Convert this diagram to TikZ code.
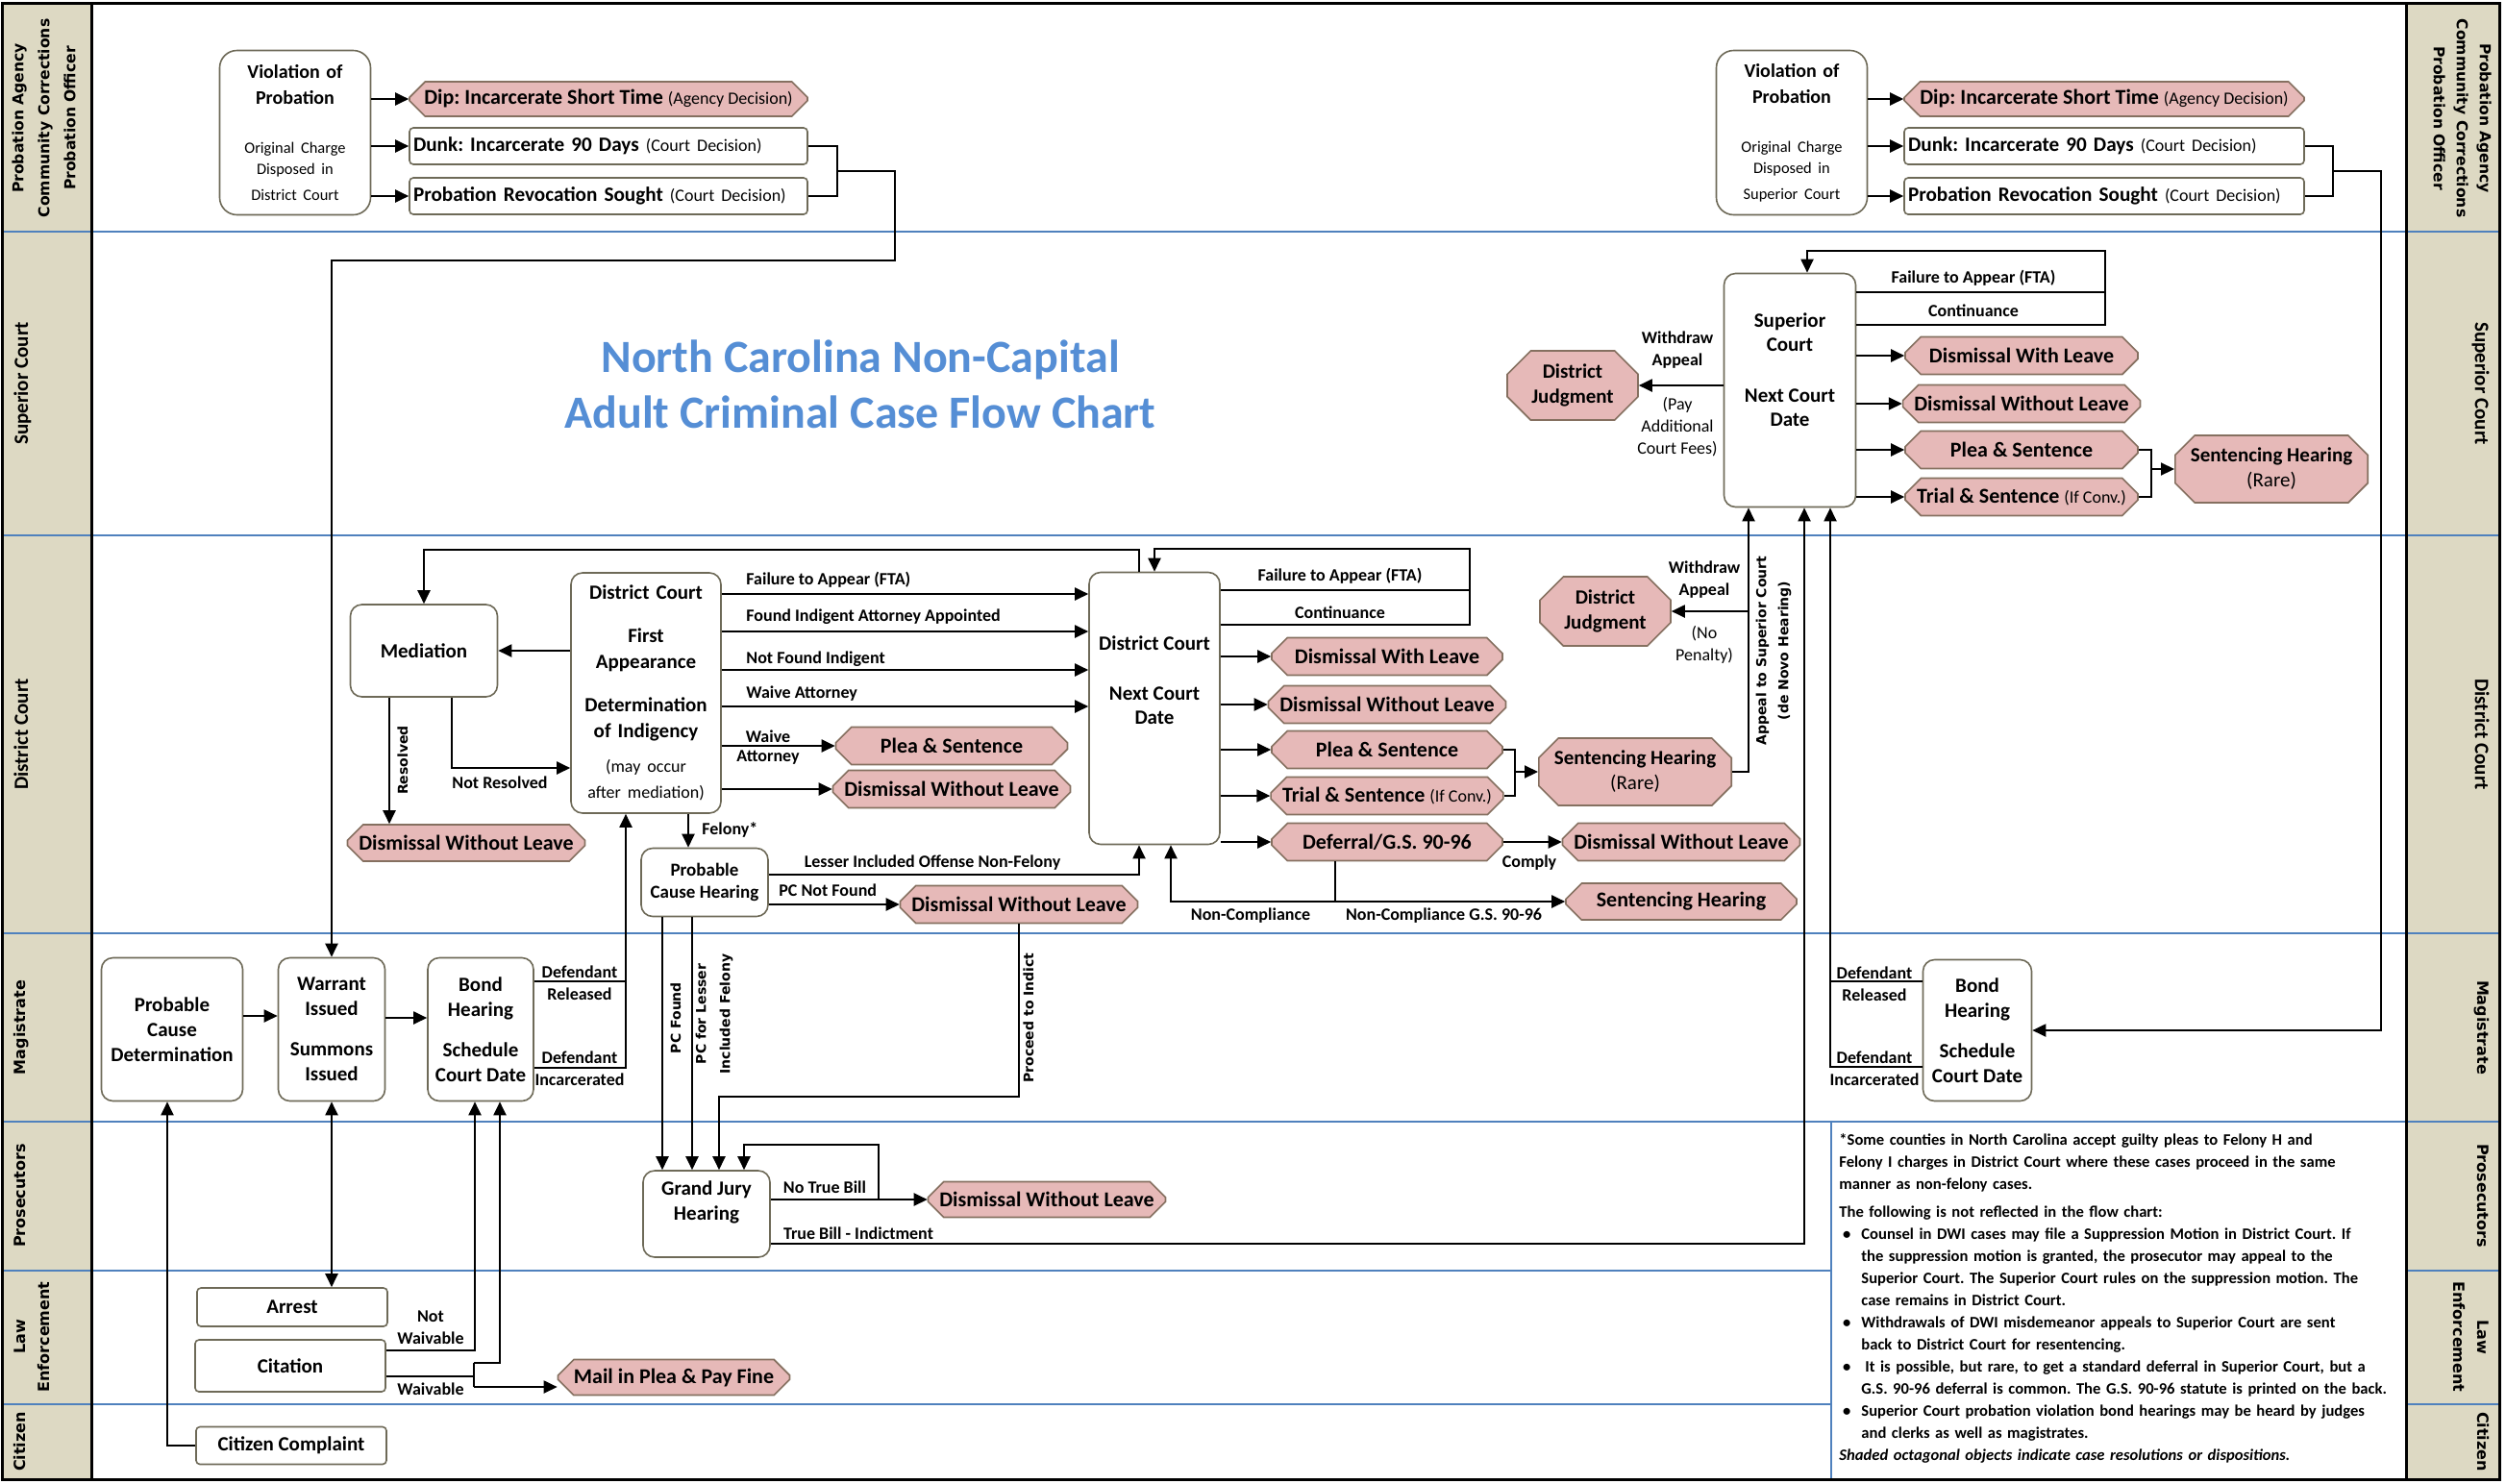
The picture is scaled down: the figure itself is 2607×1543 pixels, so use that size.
\documentclass[tikz,border=0pt]{standalone}
\usepackage{fontspec}
\setmainfont{Carlito}
\newfontfamily\vsans{DejaVu Sans}
\usetikzlibrary{arrows.meta,shapes.misc}

\definecolor{lanefill}{HTML}{DDD9C3}
\definecolor{laneline}{HTML}{4F81BD}
\definecolor{titleblue}{HTML}{558ED5}
\definecolor{boxline}{HTML}{6E6A58}
\definecolor{octfill}{HTML}{E6B9B8}
\definecolor{octline}{HTML}{857060}

\tikzset{
  ln/.style={draw=black, line width=1pt},
  arr/.style={ln, -{Triangle[length=7pt,width=6.5pt]}},
  dbl/.style={ln, {Triangle[length=7pt,width=6.5pt]}-{Triangle[length=7pt,width=6.5pt]}},
  box/.style={rectangle, rounded corners=6pt, draw=boxline, line width=0.8pt, fill=white,
    inner sep=2pt, align=center, font=\bfseries\fontsize{10.5}{13}\selectfont},
  sqbox/.style={box, rounded corners=2pt},
  btxt/.style={align=center, inner sep=0pt, font=\bfseries\fontsize{10.5}{12.5}\selectfont},
  oct/.style={chamfered rectangle, chamfered rectangle xsep=5pt, draw=octline, line width=0.8pt,
    fill=octfill, inner sep=1pt, align=center, font=\bfseries\fontsize{11}{13}\selectfont},
  bigoct/.style={oct, chamfered rectangle xsep=7pt, font=\bfseries\fontsize{10.5}{13}\selectfont},
  lbl/.style={inner sep=0pt, align=center, font=\bfseries\fontsize{9}{11.5}\selectfont},
  rlbl/.style={lbl, font=\fontsize{9}{11.5}\selectfont},
  vlbl/.style={inner sep=0pt, align=center, rotate=90, font=\vsans\bfseries\fontsize{7}{12}\selectfont},
  lanelbl/.style={inner sep=0pt, align=center, anchor=north, font=\vsans\bfseries\fontsize{8}{12.5}\selectfont},
  courtlbl/.style={lanelbl, font=\bfseries\fontsize{10.5}{12.5}\selectfont},
}
\newcommand\paren[1]{{\mdseries\fontsize{9}{11}\selectfont #1}}

\begin{document}
\frenchspacing
\begin{tikzpicture}[x=0.5pt,y=-0.5pt]
\useasboundingbox (0,0) rectangle (2607,1543);

% swim lanes
\fill[lanefill] (2,3) rectangle (95,1539);
\fill[lanefill] (2503,3) rectangle (2600,1539);
\foreach \y in {241,557,971,1167,1322,1461}
  \draw[laneline, line width=1pt] (2,\y) -- (2600,\y);
\fill[white] (1905,1168) rectangle (2502,1538);
\draw[laneline, line width=0.8pt] (1905,1167) -- (1905,1539);
\draw[line width=1.5pt] (95,3) -- (95,1539) (2503,3) -- (2503,1539);
\draw[line width=1.5pt] (2,3) rectangle (2600,1539);

% lane labels
\node[lanelbl, rotate=90, font=\vsans\bfseries\fontsize{7.8}{13.5}\selectfont] (laneProbL) at (12,123) {Probation Agency\\Community Corrections\\Probation Officer};
\node[courtlbl, rotate=90] (laneSupL) at (14,399) {Superior Court};
\node[courtlbl, rotate=90] (laneDistL) at (14,764) {District Court};
\node[lanelbl, rotate=90] (laneMagL) at (14,1069) {Magistrate};
\node[lanelbl, rotate=90] (laneProsL) at (14,1244) {Prosecutors};
\node[lanelbl, rotate=90] (laneLawL) at (14,1391) {Law\\Enforcement};
\node[lanelbl, rotate=90] (laneCitL) at (14,1500) {Citizen};
\node[lanelbl, rotate=-90, font=\vsans\bfseries\fontsize{7.8}{12}\selectfont] (laneProbR) at (2592,123) {Probation Agency\\Community Corrections\\Probation Officer};
\node[courtlbl, rotate=-90] (laneSupR) at (2590,399) {Superior Court};
\node[courtlbl, rotate=-90] (laneDistR) at (2590,764) {District Court};
\node[lanelbl, rotate=-90] (laneMagR) at (2590,1069) {Magistrate};
\node[lanelbl, rotate=-90] (laneProsR) at (2590,1244) {Prosecutors};
\node[lanelbl, rotate=-90] (laneLawR) at (2590,1391) {Law\\Enforcement};
\node[lanelbl, rotate=-90] (laneCitR) at (2590,1500) {Citizen};

% probation, district side
\node[box, rounded corners=9pt, minimum width=78.5pt, minimum height=85.5pt, text width=74pt,
  font=\bfseries\fontsize{10}{13.5}\selectfont] (vopL) at (307,138)
  {Violation of\\Probation\\[14.5pt]{\mdseries\fontsize{8.2}{11}\selectfont Original Charge\\Disposed in\\District Court}};
\node[oct, minimum width=207pt, minimum height=18pt] (dipL) at (633,103) {Dip: Incarcerate Short Time \paren{(Agency Decision)}};
\node[sqbox, minimum width=207pt, minimum height=19pt, text width=203pt, inner sep=1.5pt, align=left,
  font=\bfseries\fontsize{10.6}{13}\selectfont] (dunkL) at (633,152) {Dunk: Incarcerate 90 Days \paren{(Court Decision)}};
\node[sqbox, minimum width=207pt, minimum height=19pt, text width=203pt, inner sep=1.5pt, align=left,
  font=\bfseries\fontsize{10.6}{13}\selectfont] (revL) at (633,204) {Probation Revocation Sought \paren{(Court Decision)}};

% probation, superior side
\node[box, rounded corners=9pt, minimum width=78.5pt, minimum height=85.5pt, text width=74pt,
  font=\bfseries\fontsize{10}{13.5}\selectfont] (vopR) at (1864,138)
  {Violation of\\Probation\\[14.5pt]{\mdseries\fontsize{8.2}{11}\selectfont Original Charge\\Disposed in\\Superior Court}};
\node[oct, minimum width=208pt, minimum height=18pt] (dipR) at (2189,103) {Dip: Incarcerate Short Time \paren{(Agency Decision)}};
\node[sqbox, minimum width=208pt, minimum height=19pt, text width=204pt, inner sep=1.5pt, align=left,
  font=\bfseries\fontsize{10.6}{13}\selectfont] (dunkR) at (2189,152) {Dunk: Incarcerate 90 Days \paren{(Court Decision)}};
\node[sqbox, minimum width=208pt, minimum height=19pt, text width=204pt, inner sep=1.5pt, align=left,
  font=\bfseries\fontsize{10.6}{13}\selectfont] (revR) at (2189,204) {Probation Revocation Sought \paren{(Court Decision)}};

% superior court
\node[font=\bfseries\fontsize{24}{29}\selectfont, text=titleblue, align=center] (title) at (895,400)
  {North Carolina Non-Capital\\Adult Criminal Case Flow Chart};
\node[box, minimum width=68.5pt, minimum height=121.5pt] (sc) at (1862,406) {};
\node[btxt] (scT) at (1862,385) {Superior\\Court\\[14pt]Next Court\\Date};
\node[oct, minimum width=121pt, minimum height=19.5pt] (scDWL) at (2103,370) {Dismissal With Leave};
\node[oct, minimum width=121pt, minimum height=19.5pt] (scDWoL) at (2103,420) {Dismissal Without Leave};
\node[oct, minimum width=121pt, minimum height=19.5pt] (scPlea) at (2103,468) {Plea \& Sentence};
\node[oct, minimum width=121pt, minimum height=19.5pt] (scTrial) at (2103,517) {Trial \& Sentence \paren{(If Conv.)}};
\node[bigoct, minimum width=99pt, minimum height=35pt] (scSH) at (2363,488)
  {Sentencing Hearing\\{\mdseries (Rare)}};
\node[bigoct, minimum width=68pt, minimum height=36pt, chamfered rectangle xsep=9pt] (scDJ) at (1636,401) {District\\Judgment};
\node[lbl] (lWdS) at (1745,364) {Withdraw\\Appeal};
\node[rlbl] (lPay) at (1745,444) {(Pay\\Additional\\Court Fees)};
\node[lbl] (lFtaS) at (2053,289) {Failure to Appear (FTA)};
\node[lbl] (lContS) at (2053,323) {Continuance};

% district court
\node[box, minimum width=76.5pt, minimum height=48pt] (med) at (441,677) {Mediation};
\node[box, minimum width=78pt, minimum height=125pt, text width=74pt,
  font=\bfseries\fontsize{10.5}{13.5}\selectfont] (fa) at (672,721)
  {District Court\\[9pt]First\\Appearance\\[9pt]Determination\\of Indigency\\[6.5pt]{\mdseries\fontsize{9}{11.5}\selectfont (may occur\\after mediation)}};
\node[box, minimum width=68pt, minimum height=141.5pt] (ncd) at (1201,737) {};
\node[btxt] (ncdT) at (1201,708) {District Court\\[13.5pt]Next Court\\Date};
\node[oct, minimum width=120.5pt, minimum height=19.5pt] (faPlea) at (990,776) {Plea \& Sentence};
\node[oct, minimum width=120.5pt, minimum height=19.5pt] (faDWoL) at (990,821) {Dismissal Without Leave};
\node[oct, minimum width=119.5pt, minimum height=19pt] (medDWoL) at (485,877) {Dismissal Without Leave};
\node[box, minimum width=66pt, minimum height=35.5pt, font=\bfseries\fontsize{9.5}{11.5}\selectfont] (pch) at (733,918) {Probable\\Cause Hearing};
\node[oct, minimum width=117.5pt, minimum height=19.5pt] (pchDWoL) at (1060,941) {Dismissal Without Leave};
\node[oct, minimum width=120pt, minimum height=19.5pt] (ncdDWL) at (1443,683) {Dismissal With Leave};
\node[oct, minimum width=120pt, minimum height=19.5pt] (ncdDWoL) at (1443,733) {Dismissal Without Leave};
\node[oct, minimum width=120pt, minimum height=19.5pt] (ncdPlea) at (1443,780) {Plea \& Sentence};
\node[oct, minimum width=120pt, minimum height=19.5pt] (ncdTrial) at (1443,828) {Trial \& Sentence \paren{(If Conv.)}};
\node[oct, minimum width=120pt, minimum height=19.5pt] (ncdDef) at (1443,876) {Deferral/G.S. 90-96};
\node[bigoct, minimum width=99.5pt, minimum height=35pt] (ncdSH) at (1701,803)
  {Sentencing Hearing\\{\mdseries (Rare)}};
\node[bigoct, minimum width=68pt, minimum height=36pt, chamfered rectangle xsep=9pt] (ncdDJ) at (1670,636) {District\\Judgment};
\node[oct, minimum width=120pt, minimum height=19.5pt] (defDWoL) at (1749,876) {Dismissal Without Leave};
\node[oct, minimum width=120pt, minimum height=19pt] (defSH) at (1749,938) {Sentencing Hearing};

\node[lbl, anchor=west] (lFtaD) at (776,603) {Failure to Appear (FTA)};
\node[lbl, anchor=west] (lFia) at (776,642) {Found Indigent Attorney Appointed};
\node[lbl, anchor=west] (lNfi) at (776,686) {Not Found Indigent};
\node[lbl, anchor=west] (lWa) at (776,722) {Waive Attorney};
\node[lbl] (lWaive) at (799,766) {Waive};
\node[lbl] (lAtty) at (799,788) {Attorney};
\node[vlbl] (lRes) at (419,791) {Resolved};
\node[lbl] (lNotRes) at (520,814) {Not Resolved};
\node[lbl, anchor=west] (lFel) at (730,863) {Felony*};
\node[lbl] (lLio) at (970,898) {Lesser Included Offense Non-Felony};
\node[lbl, anchor=west] (lPcnf) at (810,926) {PC Not Found};
\node[lbl] (lFtaN) at (1394,599) {Failure to Appear (FTA)};
\node[lbl] (lContN) at (1394,637) {Continuance};
\node[lbl] (lComply) at (1591,898) {Comply};
\node[lbl] (lNonC) at (1301,953) {Non-Compliance};
\node[lbl] (lNonCg) at (1502,953) {Non-Compliance G.S. 90-96};
\node[lbl] (lWdD) at (1773,603) {Withdraw\\Appeal};
\node[rlbl] (lNoPen) at (1773,671) {(No\\Penalty)};
\node[vlbl, font=\vsans\bfseries\fontsize{7}{11.5}\selectfont] (lAppeal) at (1845,677) {Appeal to Superior Court\\(de Novo Hearing)};

% magistrate
\node[box, minimum width=73.5pt, minimum height=74.5pt] (pcd) at (179,1071) {Probable\\Cause\\Determination};
\node[box, minimum width=55.5pt, minimum height=74.5pt] (wi) at (345,1071) {Warrant\\Issued\\[8pt]Summons\\Issued};
\node[box, minimum width=55pt, minimum height=74.5pt] (bhL) at (500,1071) {Bond\\Hearing\\[8pt]Schedule\\Court Date};
\node[box, minimum width=56.5pt, minimum height=73.5pt] (bhR) at (2057,1072) {Bond\\Hearing\\[8pt]Schedule\\Court Date};
\node[lbl] (lRelL) at (603,1023) {Defendant\\Released};
\node[lbl] (lIncL) at (603,1112) {Defendant\\Incarcerated};
\node[lbl] (lRelR) at (1950,1024) {Defendant\\Released};
\node[lbl] (lIncR) at (1950,1112) {Defendant\\Incarcerated};
\node[vlbl] (lPcf) at (703,1059) {PC Found};
\node[vlbl, font=\vsans\bfseries\fontsize{7}{12.5}\selectfont] (lPcl) at (743,1055) {PC for Lesser\\Included Felony};
\node[vlbl] (lPti) at (1070,1059) {Proceed to Indict};

% prosecutors
\node[box, minimum width=66pt, minimum height=45pt] (gj) at (735,1263) {};
\node[btxt, font=\bfseries\fontsize{10.5}{13}\selectfont] (gjT) at (735,1251) {Grand Jury\\Hearing};
\node[oct, minimum width=120.5pt, minimum height=18.5pt] (gjDWoL) at (1089,1248) {Dismissal Without Leave};
\node[lbl] (lNtb) at (858,1235) {No True Bill};
\node[lbl] (lTb) at (893,1283) {True Bill - Indictment};

% law enforcement and citizen
\node[sqbox, minimum width=99pt, minimum height=20pt] (arrest) at (304,1360) {Arrest};
\node[sqbox, minimum width=99pt, minimum height=27pt] (citation) at (302,1421) {Citation};
\node[oct, minimum width=120.5pt, minimum height=18.5pt] (mip) at (701,1433) {Mail in Plea \& Pay Fine};
\node[lbl] (lNw) at (448,1381) {Not\\Waivable};
\node[lbl] (lW) at (448,1445) {Waivable};
\node[sqbox, minimum width=99pt, minimum height=19.5pt] (cc) at (303,1504) {Citizen Complaint};

% notes
\node[anchor=north west, text width=292pt, inner sep=0pt, font=\bfseries\fontsize{8.3}{11.5}\selectfont] (notes) at (1913,1179) {%
  \setlength\parindent{0pt}%
  {\raggedright *Some counties in North Carolina accept guilty pleas to Felony H and\\
  Felony I charges in District Court where these cases proceed in the same\\
  manner as non-felony cases.\par}
  \vspace{3pt}
  The following is not reflected in the flow chart:\par
  \begin{list}{\textbullet}{\setlength\leftmargin{11.5pt}\setlength\labelwidth{6pt}\setlength\labelsep{5.5pt}%
    \setlength\itemsep{0pt}\setlength\topsep{0pt}\setlength\parsep{0pt}\setlength\partopsep{0pt}}
  \item Counsel in DWI cases may file a Suppression Motion in District Court. If\linebreak
    the suppression motion is granted, the prosecutor may appeal to the\linebreak
    Superior Court. The Superior Court rules on the suppression motion. The\linebreak
    case remains in District Court.
  \item Withdrawals of DWI misdemeanor appeals to Superior Court are sent\linebreak
    back to District Court for resentencing.
  \item \hspace{2pt}It is possible, but rare, to get a standard deferral in Superior Court, but a\linebreak
    G.S. 90-96 deferral is common. The G.S. 90-96 statute is printed on the back.
  \item Superior Court probation violation bond hearings may be heard by judges\linebreak
    and clerks as well as magistrates.
  \end{list}
  {\itshape Shaded octagonal objects indicate case resolutions or dispositions.\par}};

% ---- connectors ----
% probation
\draw[arr] (vopL.east |- dipL.west) -- (dipL.west);
\draw[arr] (vopL.east |- dunkL.west) -- (dunkL.west);
\draw[arr] (vopL.east |- revL.west) -- (revL.west);
\coordinate (bkL) at (871,178);
\draw[ln] (dunkL.east) -| (bkL) |- (revL.east);
\draw[arr] (bkL) -- ++(60,0) -- ++(0,93) -| (wi.north);
\draw[arr] (vopR.east |- dipR.west) -- (dipR.west);
\draw[arr] (vopR.east |- dunkR.west) -- (dunkR.west);
\draw[arr] (vopR.east |- revR.west) -- (revR.west);
\coordinate (bkR) at (2427,178);
\draw[ln] (dunkR.east) -| (bkR) |- (revR.east);
\draw[arr] (bkR) -- ++(50,0) |- (bhR.east);

% superior court
\coordinate (scLoop) at (2190,261);
\draw[arr] ([yshift=34pt]sc.east) -| (scLoop) -| ([xshift=9pt]sc.north);
\draw[ln] ([yshift=51pt]sc.east) -- ([yshift=51pt]sc.east -| scLoop);
\foreach \n in {scDWL,scDWoL,scPlea,scTrial}
  \draw[arr] (sc.east |- \n.west) -- (\n.west);
\coordinate (bkS) at ([xshift=-12pt]scSH.west);
\draw[ln] (scPlea.east) -| (bkS) |- (scTrial.east);
\draw[arr] (bkS) -- (scSH.west);
\draw[arr] (sc.west |- scDJ.east) -- (scDJ.east);

% district court
\draw[arr] (fa.west |- med.east) -- (med.east);
\draw[arr] ([xshift=-18pt]med.south) -- ([xshift=-18pt]med.south |- medDWoL.north);
\draw[arr] ([xshift=14.5pt]med.south) |- ([yshift=-39pt]fa.west);
\draw[arr] ([xshift=-8pt]ncd.north) -- ++(0,-23) -| (med.north);
\foreach \s in {51.5,32,12,-7}
  \draw[arr] ([yshift=\s pt]fa.east) -- ([yshift=\s pt]fa.east -| ncd.west);
\draw[arr] (fa.east |- faPlea.west) -- (faPlea.west);
\draw[arr] (fa.east |- faDWoL.west) -- (faDWoL.west);
\draw[arr] ([xshift=22pt]fa.south) -- ([xshift=22pt]fa.south |- pch.north);
\draw[arr] ([yshift=4pt]pch.east) -| ([xshift=-8pt]ncd.south);
\draw[arr] (pch.east |- pchDWoL.west) -- (pchDWoL.west);
\coordinate (ncdLoop) at (1529,571);
\draw[arr] ([yshift=43.5pt]ncd.east) -| (ncdLoop) -| (ncd.north);
\draw[ln] ([yshift=61.5pt]ncd.east) -- ([yshift=61.5pt]ncd.east -| ncdLoop);
\foreach \n in {ncdDWL,ncdDWoL,ncdPlea,ncdTrial,ncdDef}
  \draw[arr] (ncd.east |- \n.west) -- (\n.west);
\coordinate (bkN) at ([xshift=-12pt]ncdSH.west);
\draw[ln] (ncdPlea.east) -| (bkN) |- (ncdTrial.east);
\draw[arr] (bkN) -- (ncdSH.west);
\draw[arr] (ncdSH.east) -| ([xshift=-21.5pt]sc.south);
\draw[arr] ([xshift=-21.5pt]sc.south |- ncdDJ.east) -- (ncdDJ.east);
\draw[arr] (ncdDef.east) -- (defDWoL.west);
\draw[arr] ([xshift=-27pt]ncdDef.south) |- (defSH.west);
\draw[arr] ([xshift=-27pt]ncdDef.south |- defSH.west) -| ([xshift=8.5pt]ncd.south);

% magistrate
\draw[arr] ([yshift=7pt]pcd.east) -- ([yshift=7pt]pcd.east -| wi.west);
\draw[arr] ([yshift=6pt]wi.east) -- ([yshift=6pt]wi.east -| bhL.west);
\draw[arr] ([yshift=-20pt]bhL.east) -| ([xshift=-10.5pt]fa.south);
\draw[ln] ([yshift=25pt]bhL.east) -- ++(96,0);
\draw[arr] ([yshift=-19pt]bhR.west) -| ([xshift=21pt]sc.south);
\draw[ln] ([yshift=25.5pt]bhR.west) -- ++(-96,0);
\draw[dbl] (wi.south) -- (wi.south |- arrest.north);

% grand jury
\coordinate (piB) at (748,1141);
\draw[arr] (pchDWoL.south) |- (piB) -- (piB |- gj.north);
\draw[arr] ([xshift=-22pt]pch.south) -- ([xshift=-22pt]pch.south |- gj.north);
\draw[arr] ([xshift=-6.5pt]pch.south) -- ([xshift=-6.5pt]pch.south |- gj.north);
\draw[arr] (gj.east |- gjDWoL.west) -- (gjDWoL.west);
\draw[arr] ([xshift=-25.5pt]gjDWoL.west) -- ++(0,-57) -| ([xshift=19.5pt]gj.north);
\draw[arr] ([yshift=-15.5pt]gj.east) -| ([xshift=7.5pt]sc.south);

% law enforcement, citizen
\draw[arr] ([yshift=8pt]citation.east) -| ([xshift=-3pt]bhL.south);
\coordinate (wv) at (493,1432);
\draw[ln] ([yshift=-5.5pt]citation.east) -- (wv);
\draw[ln] ([yshift=7pt]wv) -- ([yshift=-5.5pt]wv);
\draw[arr] ([yshift=7pt]wv) -| ([xshift=10pt]bhL.south);
\draw[arr] ([yshift=-5.5pt]wv) -- ([yshift=-5.5pt]wv -| mip.west);
\draw[arr] (cc.west) -| ([xshift=-2.5pt]pcd.south);

\end{tikzpicture}
\end{document}
